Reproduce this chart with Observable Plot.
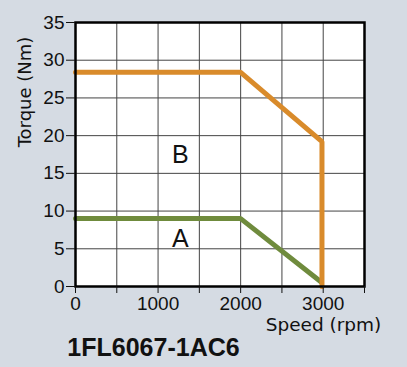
<!DOCTYPE html>
<html><head><meta charset="utf-8">
<script src="https://cdn.jsdelivr.net/npm/d3@7"></script>
<script src="https://cdn.jsdelivr.net/npm/@observablehq/plot@0.6"></script>
<style>html,body{margin:0;padding:0;background:#d5dbe3;} svg{display:block}</style>
</head><body><div id="chart"></div>
<script>
const title = "1FL6067-1AC6";
const xLabel = "Speed (rpm)";
const yLabel = "Torque (Nm)";
const xTicks = [0, 500, 1000, 1500, 2000, 2500, 3000, 3500];
const xTickLabeled = [0, 1000, 2000, 3000];
const yTicks = [0, 5, 10, 15, 20, 25, 30, 35];
const speedA = [0, 2000, 2975];
const torqueA = [9, 9, 0.6];
const speedB = [0, 2000, 2985, 2985];
const torqueB = [28.4, 28.4, 19.2, 0];
const curveNames = ["A", "B"];
const curveLabelSpeed = [1270, 1270];
const curveLabelTorque = [6.3, 17.4];

const tableA = speedA.map((s, i) => ({speed: s, torque: torqueA[i]}));
const tableB = speedB.map((s, i) => ({speed: s, torque: torqueB[i]}));
const labels = curveNames.map((n, i) => ({name: n, speed: curveLabelSpeed[i], torque: curveLabelTorque[i]}));

const chart = Plot.plot({
  width: 407, height: 367,
  marginLeft: 75, marginRight: 43, marginTop: 22, marginBottom: 81,
  x: {domain: [0, 3500]},
  y: {domain: [0, 35]},
  style: {background: "transparent", fontFamily: "'Liberation Sans', Arial, sans-serif", color: "#111"},
  marks: [
    Plot.frame({fill: "white"}),
    Plot.gridX(xTicks, {stroke: "#444", strokeOpacity: 1}),
    Plot.gridY(yTicks, {stroke: "#444", strokeOpacity: 1}),
    Plot.line(tableA, {x: "speed", y: "torque", stroke: "#6f8b3d", strokeWidth: 5, strokeLinejoin: "miter"}),
    Plot.line(tableB, {x: "speed", y: "torque", stroke: "#d98b2b", strokeWidth: 5, strokeLinejoin: "miter"}),
    Plot.frame({stroke: "black", strokeWidth: 2.5}),
    Plot.axisX({ticks: xTicks, tickSize: 7, tickPadding: 3, fontSize: 19, label: null,
      tickFormat: d => xTickLabeled.includes(d) ? String(d) : ""}),
    Plot.axisY({ticks: yTicks, tickSize: 9, tickPadding: 2, fontSize: 19, label: null}),
    Plot.text(labels, {x: "speed", y: "torque", text: "name", fontSize: 25}),
    Plot.text([yLabel], {frameAnchor: "top-left", dx: -57, dy: 69.5, rotate: -90, fontSize: 18, fontFamily: "'DejaVu Sans', sans-serif", textAnchor: "middle"}),
    Plot.text([xLabel], {frameAnchor: "bottom-right", dx: -41, dy: 44, fontSize: 18.5, fontFamily: "'DejaVu Sans', sans-serif", textAnchor: "middle"}),
    Plot.text([title], {frameAnchor: "bottom-left", dx: 78, dy: 69, fontSize: 25, fontWeight: "bold", textAnchor: "middle"})
  ]
});
document.getElementById("chart").appendChild(chart);
</script>
</body></html>
